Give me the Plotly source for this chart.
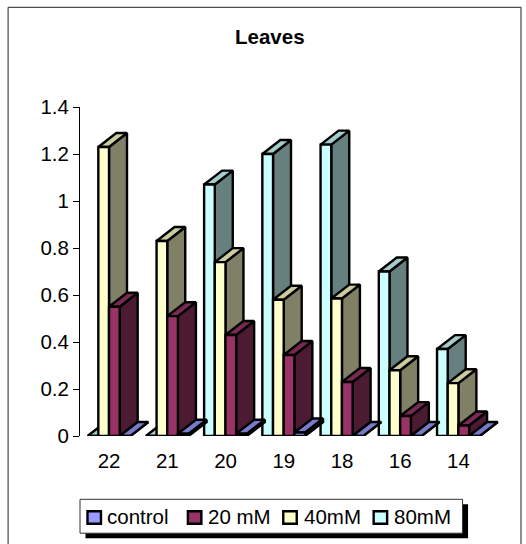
import plotly.graph_objects as go

W, H = 526, 544
categories = ["22", "21", "20", "19", "18", "16", "14"]
series_names = ["80mM", "40mM", "20 mM", "control"]
v80 = [0, 0, 1.07, 1.2, 1.24, 0.7, 0.37]
v40 = [1.23, 0.83, 0.74, 0.58, 0.585, 0.28, 0.225]
v20 = [0.55, 0.51, 0.43, 0.345, 0.23, 0.085, 0.045]
vctl = [0, 0.01, 0.01, 0.015, 0, 0, 0]
values = [v80, v40, v20, vctl]
front = ["#CCFFFF", "#FFFFCC", "#993366", "#9999FF"]
top = ["#A3CCCC", "#CCCCA3", "#7A2952", "#7A7ACC"]
side = ["#668080", "#808066", "#4D1A33", "#4D4D80"]
legend_order = [3, 2, 1, 0]

# plot area in pixels; the x axis runs on past the last group so the depth faces are not clipped
PITCH = 58.3
L, R, T, B = 79.5, 510, 106.5, 436.5
BW = 10.7 / PITCH     # bar width, category units
DX = 18 / PITCH       # depth offset, category units
DY = 14 / 236         # depth offset, value units
START = -21.5 / PITCH # left of first bar from group centre
FONT = "Liberation Sans"
FS = 20.5


def px(x):
    return (x - L) / (R - L)


def py(y):
    return (B - y) / (B - T)


fig = go.Figure()
for s, (name, vals) in enumerate(zip(series_names, values)):
    fx, fy, sx, sy, tx, ty = [], [], [], [], [], []
    for i, v in enumerate(vals):
        x0 = i + START + s * BW
        x1 = x0 + BW
        fx += [x0, x1, x1, x0, x0, None]
        fy += [0, 0, v, v, 0, None]
        sx += [x1, x1 + DX, x1 + DX, x1, x1, None]
        sy += [0, DY, v + DY, v, 0, None]
        tx += [x0, x1, x1 + DX, x0 + DX, x0, None]
        ty += [v, v, v + DY, v + DY, v, None]
    for xs, ys, col in [(sx, sy, side[s]), (tx, ty, top[s]), (fx, fy, front[s])]:
        fig.add_trace(go.Scatter(
            x=xs, y=ys, mode="lines", fill="toself", fillcolor=col, name=name,
            line=dict(color="#000000", width=2.4), showlegend=False, hoverinfo="skip",
            cliponaxis=False,
        ))

shapes = [
    dict(type="rect", xref="paper", yref="paper", x0=px(7.5), x1=px(521), y0=py(560), y1=py(6.5),
         line=dict(color="#222222", width=1), fillcolor="rgba(0,0,0,0)", layer="below"),
    dict(type="rect", xref="paper", yref="paper", x0=px(85), x1=px(468), y0=py(539), y1=py(505),
         line=dict(width=0), fillcolor="#000000"),
    dict(type="rect", xref="paper", yref="paper", x0=px(79.5), x1=px(462.5), y0=py(534), y1=py(500),
         line=dict(color="#333333", width=1), fillcolor="#FFFFFF"),
]
annotations = []
legend_sw = [87, 187.5, 283, 373.5]
legend_tx = [105, 206, 301.5, 391.5]
for k, s in enumerate(legend_order):
    shapes.append(dict(type="rect", xref="paper", yref="paper",
                       x0=px(legend_sw[k]), x1=px(legend_sw[k] + 13.5), y0=py(524.5), y1=py(512),
                       line=dict(color="#000000", width=2.4), fillcolor=front[s]))
    annotations.append(dict(text=series_names[s], xref="paper", yref="paper", x=px(legend_tx[k]), y=py(517.5),
                            xanchor="left", yanchor="middle", showarrow=False,
                            font=dict(family=FONT, size=FS, color="#000000")))
annotations.append(dict(text="<b>Leaves</b>", xref="paper", yref="paper", x=px(270), y=py(36),
                        xanchor="center", yanchor="middle", showarrow=False,
                        font=dict(family=FONT, size=FS, color="#000000")))

fig.update_layout(
    width=W, height=H, autosize=False,
    margin=dict(l=L, r=W - R, t=T, b=H - B, pad=0),
    paper_bgcolor="#FFFFFF", plot_bgcolor="#FFFFFF",
    shapes=shapes, annotations=annotations, showlegend=False,
    font=dict(family=FONT, color="#000000", size=FS),
    xaxis=dict(range=[-0.5, -0.5 + (R - L) / PITCH], tickmode="array", tickvals=list(range(7)), ticktext=categories,
               showgrid=False, zeroline=False, showline=False, ticks="", ticklabelstandoff=10,
               tickfont=dict(size=FS)),
    yaxis=dict(range=[0, 1.4], tickmode="array", tickvals=[0, 0.2, 0.4, 0.6, 0.8, 1, 1.2, 1.4],
               ticktext=["0", "0.2", "0.4", "0.6", "0.8", "1", "1.2", "1.4"],
               showgrid=False, zeroline=False, showline=True, linecolor="#000000", linewidth=1,
               ticks="outside", ticklen=6, tickcolor="#000000", tickwidth=1,
               tickfont=dict(size=FS)),
)
fig.write_html("out.html", config={"displayModeBar": False},
               post_script="document.body.style.margin='0';document.body.style.overflow='hidden';")
